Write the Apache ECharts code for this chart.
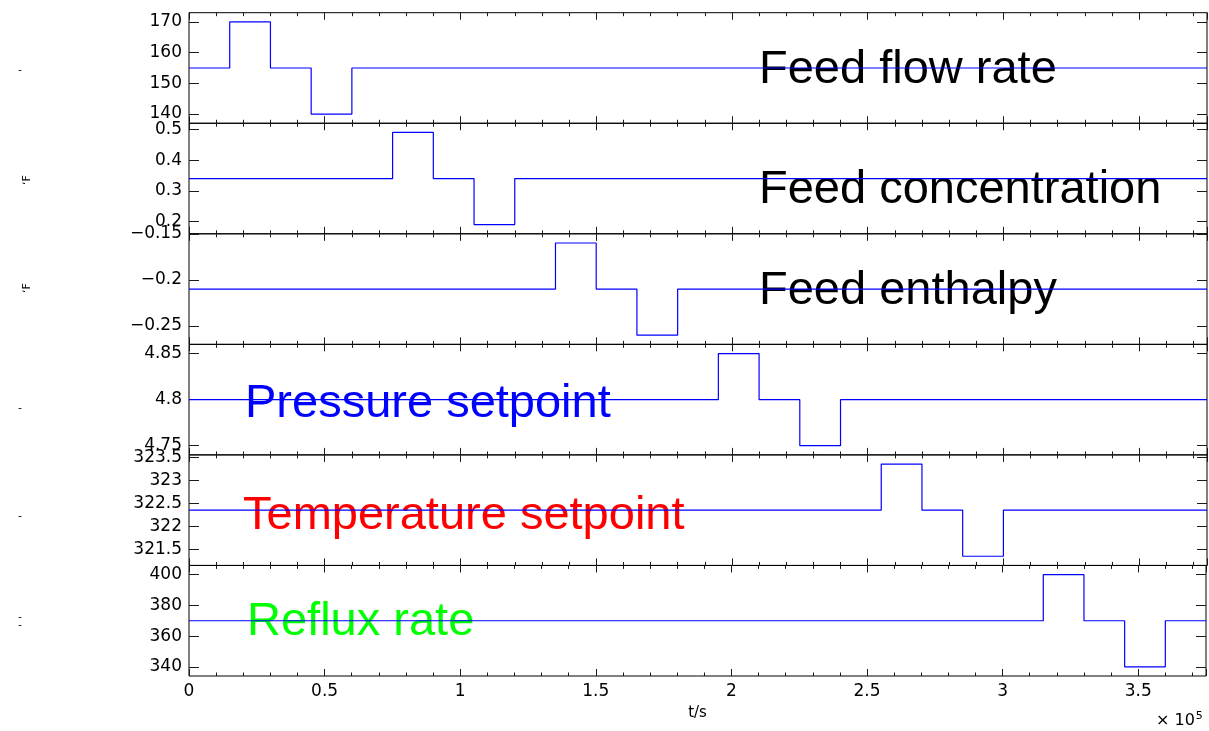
<!DOCTYPE html>
<html>
<head>
<meta charset="utf-8">
<script src="https://cdn.jsdelivr.net/npm/echarts@6/dist/echarts.min.js"></script>
<style>
html,body{margin:0;padding:0;background:#fff;}
#chart{width:1209px;height:731px;}
</style>
</head>
<body>
<div id="chart"></div>
<script>
// ---- data ----
const titles = ['Feed flow rate', 'Feed concentration', 'Feed enthalpy', 'Pressure setpoint', 'Temperature setpoint', 'Reflux rate'];
const titleColors = ['#000000', '#000000', '#000000', '#0000ff', '#ff0000', '#00ff00'];

const feedFlowT = [0, 15000, 30000, 45000, 60000, 375000];
const feedFlowV = [155, 170, 155, 140, 155, 155];
const feedConcT = [0, 75000, 90000, 105000, 120000, 375000];
const feedConcV = [0.34, 0.49, 0.34, 0.19, 0.34, 0.34];
const feedEnthT = [0, 135000, 150000, 165000, 180000, 375000];
const feedEnthV = [-0.21, -0.16, -0.21, -0.26, -0.21, -0.21];
const pressT = [0, 195000, 210000, 225000, 240000, 375000];
const pressV = [4.8, 4.85, 4.8, 4.75, 4.8, 4.8];
const tempT = [0, 255000, 270000, 285000, 300000, 375000];
const tempV = [322.35, 323.35, 322.35, 321.35, 322.35, 322.35];
const refluxT = [0, 315000, 330000, 345000, 360000, 375000];
const refluxV = [370, 400, 370, 340, 370, 370];

const yTicks1 = [140, 150, 160, 170];
const yTicks2 = [0.2, 0.3, 0.4, 0.5];
const yTicks3 = [-0.25, -0.2, -0.15];
const yTicks4 = [4.75, 4.8, 4.85];
const yTicks5 = [321.5, 322, 322.5, 323, 323.5];
const yTicks6 = [340, 360, 380, 400];

const yMins = [137, 0.16, -0.27, 4.74, 321.15, 334];
const yMaxs = [173, 0.52, -0.15, 4.86, 323.55, 406];

const xMin = 0, xMax = 375000, xMajor = 50000, xMinor = 10000;
const xTickLabels = ['0', '0.5', '1', '1.5', '2', '2.5', '3', '3.5'];

// ---- build ----
const seriesT = [feedFlowT, feedConcT, feedEnthT, pressT, tempT, refluxT];
const seriesV = [feedFlowV, feedConcV, feedEnthV, pressV, tempV, refluxV];
const yTicks = [yTicks1, yTicks2, yTicks3, yTicks4, yTicks5, yTicks6];

const gridTop = 12.7, gridH = 110.55, gridLeft = 189, gridRight = 2;
const titlePos = [[759, 70], [759, 190], [759, 291], [245, 404], [243, 516], [247, 622]];

const grids = [], xAxes = [], yAxes = [], series = [], graphics = [];
const tickColor = '#1a1a1a';
const labelFont = 'DejaVu Sans';

for (let i = 0; i < 6; i++) {
  grids.push({
    left: gridLeft, right: gridRight, top: gridTop + i * gridH, height: gridH,
    show: true, borderColor: '#000', borderWidth: 1, backgroundColor: 'transparent'
  });
  const isLast = i === 5;
  const mk = (pos, interval, len, labels) => ({
    type: 'value', gridIndex: i, position: pos, min: xMin, max: xMax, interval: interval,
    axisLine: { show: false, onZero: false },
    axisTick: { show: true, inside: true, length: len, lineStyle: { color: tickColor, width: 1 } },
    axisLabel: labels ? {
      show: true, color: '#000', fontFamily: labelFont, fontSize: 17, margin: 7,
      formatter: v => (v % xMajor === 0 && v / xMajor < xTickLabels.length) ? xTickLabels[v / xMajor] : ''
    } : { show: false },
    splitLine: { show: false },
    name: labels ? 't/s' : '',
    nameLocation: 'middle', nameGap: 30,
    nameTextStyle: { color: '#000', fontFamily: labelFont, fontSize: 15 }
  });
  const majorIdx = xAxes.length;
  xAxes.push(mk('bottom', xMajor, 7, isLast));
  xAxes.push(mk('bottom', xMinor, 3.5, false));
  xAxes.push(mk('top', xMajor, 7, false));
  xAxes.push(mk('top', xMinor, 3.5, false));

  const leftIdx = yAxes.length;
  const mky = (pos, labels) => ({
    type: 'value', gridIndex: i, position: pos, min: yMins[i], max: yMaxs[i],
    axisLine: { show: false, onZero: false },
    axisTick: { show: true, inside: true, length: 10, customValues: yTicks[i], lineStyle: { color: tickColor, width: 1 } },
    axisLabel: labels ? {
      show: true, color: '#000', fontFamily: labelFont, fontSize: 17, margin: 7,
      customValues: yTicks[i],
      formatter: v => String(v).replace('-', '\u2212')
    } : { show: false },
    splitLine: { show: false }
  });
  yAxes.push(mky('left', true));
  yAxes.push(mky('right', false));

  series.push({
    type: 'line', xAxisIndex: majorIdx, yAxisIndex: leftIdx, step: 'end',
    data: seriesT[i].map((t, k) => [t, seriesV[i][k]]),
    showSymbol: false, symbol: 'none', silent: true, animation: false, z: 5,
    lineStyle: { color: '#0000ff', width: 1.2 }
  });

  graphics.push({
    type: 'text', x: titlePos[i][0], y: titlePos[i][1], z: 1,
    style: { text: titles[i], fill: titleColors[i], font: '47px "Liberation Sans", Arial, sans-serif',
      align: 'left', verticalAlign: 'middle' }
  });
}

// x 10^5 multiplier
graphics.push({
  type: 'text', x: 1156, y: 721, z: 1,
  style: {
    text: '{b|\u00d7 10}{s|5}', align: 'left', verticalAlign: 'middle',
    rich: {
      b: { fontFamily: labelFont, fontSize: 16, fill: '#000', color: '#000' },
      s: { fontFamily: labelFont, fontSize: 11, fill: '#000', color: '#000', verticalAlign: 'top', padding: [0, 0, 10, 1] }
    }
  }
});
// clipped axis-label remnants on the far left
const remnants = [[20, 70, '-', 0], [27, 180, '\u02bbF', Math.PI / 2], [27, 288, '\u02bbF', Math.PI / 2], [20, 408, '-', 0], [20, 516, '-', 0], [20, 617, '-', 0], [20, 625, '-', 0]];
remnants.forEach(r => graphics.push({
  type: 'text', x: r[0], y: r[1], rotation: r[3], z: 1,
  style: { text: r[2], fill: '#000', font: '11px "DejaVu Sans"', align: 'center', verticalAlign: 'middle' }
}));

const chart = echarts.init(document.getElementById('chart'), null, { renderer: 'canvas' });
chart.setOption({
  backgroundColor: '#ffffff',
  animation: false,
  grid: grids,
  xAxis: xAxes,
  yAxis: yAxes,
  series: series,
  graphic: graphics
});
</script>
</body>
</html>
